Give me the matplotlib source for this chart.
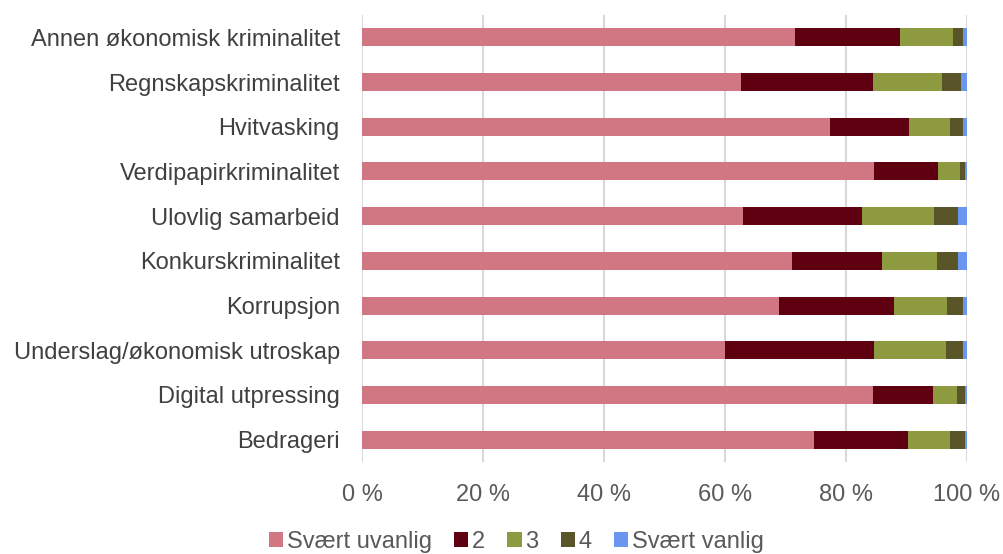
import numpy as np
import matplotlib.pyplot as plt

plt.rcParams['font.family'] = ['Liberation Sans', 'DejaVu Sans']

categories = ["Annen økonomisk kriminalitet", "Regnskapskriminalitet", "Hvitvasking",
              "Verdipapirkriminalitet", "Ulovlig samarbeid", "Konkurskriminalitet",
              "Korrupsjon", "Underslag/økonomisk utroskap", "Digital utpressing", "Bedrageri"]
series_names = ["Svært uvanlig", "2", "3", "4", "Svært vanlig"]
svaert_uvanlig = [71.6, 62.6, 77.4, 84.6, 62.9, 71.1, 68.9, 60.0, 84.4, 74.7]
s2 = [17.3, 21.9, 13.0, 10.6, 19.7, 14.9, 19.1, 24.6, 10.0, 15.5]
s3 = [8.8, 11.3, 6.8, 3.7, 12.0, 9.0, 8.7, 11.9, 3.9, 7.0]
s4 = [1.6, 3.2, 2.1, 0.8, 4.0, 3.6, 2.7, 2.8, 1.3, 2.5]
svaert_vanlig = [0.7, 1.0, 0.7, 0.3, 1.4, 1.4, 0.6, 0.7, 0.4, 0.3]
colors = ["#D07783", "#5E0010", "#8E9A40", "#5A5529", "#6A96F0"]

data = np.array([svaert_uvanlig, s2, s3, s4, svaert_vanlig])
data = data / data.sum(axis=0) * 100

fig = plt.figure(figsize=(10.04, 5.54), dpi=100)
ax = fig.add_axes([0.3606, 0.166, 0.6025, 0.807])

y = np.arange(len(categories))
left = np.zeros(len(categories))
for vals, name, c in zip(data, series_names, colors):
    ax.barh(y, vals, left=left, height=0.4, color=c, label=name, zorder=3)
    left += vals

fs = 17
ax.set_xlim(0, 100)
ax.set_ylim(len(categories) - 0.5, -0.5)
ax.set_yticks(y)
ax.set_yticklabels(categories, fontsize=fs, color="#404040")
ax.set_xticks(np.arange(0, 101, 20))
ax.set_xticklabels([f"{v} %" for v in range(0, 101, 20)], fontsize=fs, color="#595959")
ax.tick_params(axis="y", length=0, pad=16)
ax.tick_params(axis="x", length=0, pad=16)
ax.grid(axis="x", color="#D9D9D9", linewidth=1.5, zorder=0)
for s in ax.spines.values():
    s.set_visible(False)

ax.legend(loc="center", bbox_to_anchor=(0.255, -0.179), ncol=5, frameon=False,
          fontsize=fs, handlelength=0.6, handleheight=0.6, handletextpad=0.15,
          columnspacing=0.95, labelcolor="#595959", borderaxespad=0)

fig.savefig("out.png", dpi=100)
